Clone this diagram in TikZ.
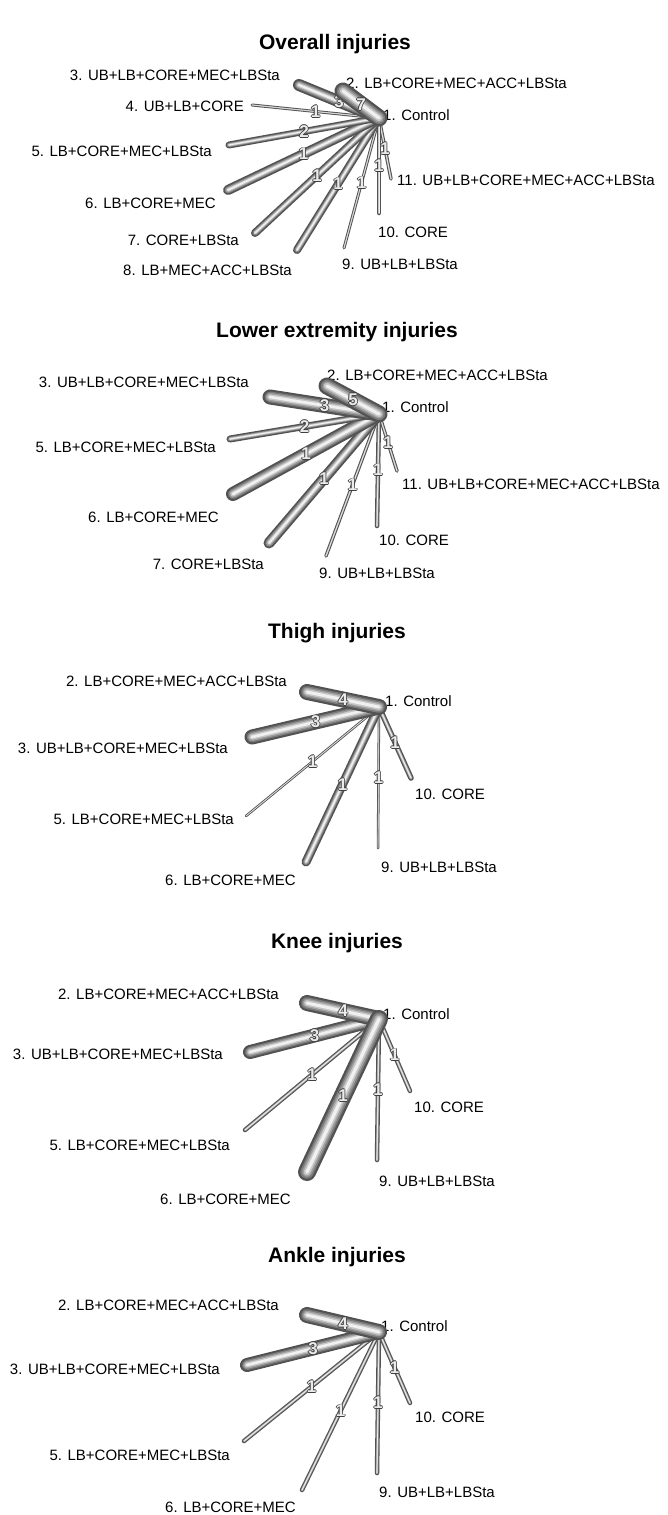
\documentclass[tikz,border=0pt]{standalone}
\usepackage{fontspec}
\setmainfont{Liberation Sans}
\usetikzlibrary{positioning}

% hollow digit: dark rim, white core
\newcommand{\hollow}[1]{%
  \leavevmode\rlap{\kern-0.8pt\color{black!75}#1}%
  \rlap{\kern0.8pt\color{black!75}#1}%
  \rlap{\raise0.8pt\hbox{\color{black!75}#1}}%
  \rlap{\lower0.8pt\hbox{\color{black!75}#1}}%
  {\color{black!8}#1}}

% shaded tube between two points, count at the middle
\newcommand{\edgetube}[4]{%
  \draw[line cap=round, line width=#3pt, black!68] (#1) -- (#2);
  \foreach \f/\c in {0.8/52,0.6/38,0.4/22,0.2/6}{%
    \pgfmathsetmacro{\lw}{max(#3-1.4,0.6)*\f}%
    \draw[line cap=round, line width=\lw pt, black!\c] (#1) -- (#2);
  }%
  \path (#1) -- (#2) node[num, pos=0.5] (n#2) {\hollow{#4}};
}

\begin{document}
\begin{tikzpicture}[x=1pt, y=-1pt,
    lbl/.style={font=\fontsize{15}{15}\selectfont, inner sep=0pt},
    ttl/.style={font=\fontsize{21}{21}\selectfont\bfseries, inner sep=0pt},
    num/.style={font=\fontsize{17}{17}\selectfont\bfseries, inner sep=0pt}]
    \fill[white] (0,0) rectangle (667,1515);
    \useasboundingbox (0,0) rectangle (667,1515);

    % Overall injuries
    \node[ttl] (t1) at (335,44) {Overall injuries};
    \coordinate (ov1) at (379,118);
    \coordinate (ov2) at (343,91);
    \coordinate (ov3) at (299,85);
    \coordinate (ov4) at (252,105);
    \coordinate (ov5) at (229,145);
    \coordinate (ov6) at (228,190);
    \coordinate (ov7) at (255,233);
    \coordinate (ov8) at (297,250);
    \coordinate (ov9) at (344,248);
    \coordinate (ov10) at (379,213);
    \coordinate (ov11) at (391,179);
    \node[lbl, anchor=west] (ov1l) at (383,115) {1. Control};
    \node[lbl, anchor=west] (ov2l) at (346,83) {2. LB+CORE+MEC+ACC+LBSta};
    \node[lbl, anchor=east] (ov3l) at (280,75) {3. UB+LB+CORE+MEC+LBSta};
    \node[lbl, anchor=east] (ov4l) at (244,106) {4. UB+LB+CORE};
    \node[lbl, anchor=east] (ov5l) at (212,151) {5. LB+CORE+MEC+LBSta};
    \node[lbl, anchor=east] (ov6l) at (216,203) {6. LB+CORE+MEC};
    \node[lbl, anchor=east] (ov7l) at (239,240) {7. CORE+LBSta};
    \node[lbl, anchor=east] (ov8l) at (292,270) {8. LB+MEC+ACC+LBSta};
    \node[lbl, anchor=west] (ov9l) at (342,264) {9. UB+LB+LBSta};
    \node[lbl, anchor=west] (ov10l) at (378,232) {10. CORE};
    \node[lbl, anchor=west] (ov11l) at (397,180) {11. UB+LB+CORE+MEC+ACC+LBSta};
    \edgetube{ov1}{ov11}{3.5}{1}
    \edgetube{ov1}{ov10}{4.5}{1}
    \edgetube{ov1}{ov9}{3}{1}
    \edgetube{ov1}{ov8}{8}{1}
    \edgetube{ov1}{ov7}{8}{1}
    \edgetube{ov1}{ov6}{10}{1}
    \edgetube{ov1}{ov5}{7}{2}
    \edgetube{ov1}{ov4}{3}{1}
    \edgetube{ov1}{ov3}{12}{3}
    \edgetube{ov1}{ov2}{17}{7}

    % Lower extremity injuries
    \node[ttl] (t2) at (337,332) {Lower extremity injuries};
    \coordinate (lo1) at (379,414);
    \coordinate (lo2) at (327,386);
    \coordinate (lo3) at (270,397);
    \coordinate (lo5) at (230,439);
    \coordinate (lo6) at (233,494);
    \coordinate (lo7) at (269,543);
    \coordinate (lo9) at (326,556);
    \coordinate (lo10) at (377,526);
    \coordinate (lo11) at (397,471);
    \node[lbl, anchor=west] (lo1l) at (382,407) {1. Control};
    \node[lbl, anchor=west] (lo2l) at (327,375) {2. LB+CORE+MEC+ACC+LBSta};
    \node[lbl, anchor=east] (lo3l) at (249,382) {3. UB+LB+CORE+MEC+LBSta};
    \node[lbl, anchor=east] (lo5l) at (216,447) {5. LB+CORE+MEC+LBSta};
    \node[lbl, anchor=east] (lo6l) at (219,517) {6. LB+CORE+MEC};
    \node[lbl, anchor=east] (lo7l) at (264,564) {7. CORE+LBSta};
    \node[lbl, anchor=west] (lo9l) at (319,573) {9. UB+LB+LBSta};
    \node[lbl, anchor=west] (lo10l) at (379,540) {10. CORE};
    \node[lbl, anchor=west] (lo11l) at (402,484) {11. UB+LB+CORE+MEC+ACC+LBSta};
    \edgetube{lo1}{lo11}{3.5}{1}
    \edgetube{lo1}{lo10}{4.5}{1}
    \edgetube{lo1}{lo9}{3.5}{1}
    \edgetube{lo1}{lo7}{11}{1}
    \edgetube{lo1}{lo6}{14}{1}
    \edgetube{lo1}{lo5}{7}{2}
    \edgetube{lo1}{lo3}{15}{3}
    \edgetube{lo1}{lo2}{17}{5}

    % Thigh injuries
    \node[ttl] (t3) at (337,633) {Thigh injuries};
    \coordinate (th1) at (379,707);
    \coordinate (th2) at (307,692);
    \coordinate (th3) at (252,737);
    \coordinate (th5) at (246,816);
    \coordinate (th6) at (306,862);
    \coordinate (th9) at (378,848);
    \coordinate (th10) at (411,778);
    \node[lbl, anchor=west] (th1l) at (385,701) {1. Control};
    \node[lbl, anchor=east] (th2l) at (287,681) {2. LB+CORE+MEC+ACC+LBSta};
    \node[lbl, anchor=east] (th3l) at (228,748) {3. UB+LB+CORE+MEC+LBSta};
    \node[lbl, anchor=east] (th5l) at (234,819) {5. LB+CORE+MEC+LBSta};
    \node[lbl, anchor=east] (th6l) at (296,880) {6. LB+CORE+MEC};
    \node[lbl, anchor=west] (th9l) at (381,867) {9. UB+LB+LBSta};
    \node[lbl, anchor=west] (th10l) at (415,794) {10. CORE};
    \edgetube{th1}{th10}{5.5}{1}
    \edgetube{th1}{th9}{2.5}{1}
    \edgetube{th1}{th6}{9}{1}
    \edgetube{th1}{th5}{2.5}{1}
    \edgetube{th1}{th3}{15}{3}
    \edgetube{th1}{th2}{16}{4}

    % Knee injuries
    \node[ttl] (t4) at (337,943) {Knee injuries};
    \coordinate (kn1) at (379,1019);
    \coordinate (kn2) at (307,1003);
    \coordinate (kn3) at (250,1052);
    \coordinate (kn5) at (245,1130);
    \coordinate (kn6) at (307,1172);
    \coordinate (kn9) at (377,1160);
    \coordinate (kn10) at (410,1091);
    \node[lbl, anchor=west] (kn1l) at (383,1014) {1. Control};
    \node[lbl, anchor=east] (kn2l) at (279,994) {2. LB+CORE+MEC+ACC+LBSta};
    \node[lbl, anchor=east] (kn3l) at (223,1054) {3. UB+LB+CORE+MEC+LBSta};
    \node[lbl, anchor=east] (kn5l) at (230,1145) {5. LB+CORE+MEC+LBSta};
    \node[lbl, anchor=east] (kn6l) at (291,1199) {6. LB+CORE+MEC};
    \node[lbl, anchor=west] (kn9l) at (379,1181) {9. UB+LB+LBSta};
    \node[lbl, anchor=west] (kn10l) at (414,1107) {10. CORE};
    \edgetube{kn1}{kn10}{4.5}{1}
    \edgetube{kn1}{kn9}{4.5}{1}
    \edgetube{kn1}{kn5}{4.5}{1}
    \edgetube{kn1}{kn3}{14}{3}
    \edgetube{kn1}{kn2}{16}{4}
    \edgetube{kn1}{kn6}{18}{1}

    % Ankle injuries
    \node[ttl] (t5) at (337,1257) {Ankle injuries};
    \coordinate (an1) at (379,1332);
    \coordinate (an2) at (307,1315);
    \coordinate (an3) at (247,1365);
    \coordinate (an5) at (244,1441);
    \coordinate (an6) at (302,1490);
    \coordinate (an9) at (377,1473);
    \coordinate (an10) at (410,1403);
    \node[lbl, anchor=west] (an1l) at (381,1326) {1. Control};
    \node[lbl, anchor=east] (an2l) at (279,1305) {2. LB+CORE+MEC+ACC+LBSta};
    \node[lbl, anchor=east] (an3l) at (220,1369) {3. UB+LB+CORE+MEC+LBSta};
    \node[lbl, anchor=east] (an5l) at (230,1455) {5. LB+CORE+MEC+LBSta};
    \node[lbl, anchor=east] (an6l) at (296,1507) {6. LB+CORE+MEC};
    \node[lbl, anchor=west] (an9l) at (379,1492) {9. UB+LB+LBSta};
    \node[lbl, anchor=west] (an10l) at (415,1417) {10. CORE};
    \edgetube{an1}{an10}{4.5}{1}
    \edgetube{an1}{an9}{4.5}{1}
    \edgetube{an1}{an6}{4.5}{1}
    \edgetube{an1}{an5}{4.5}{1}
    \edgetube{an1}{an3}{14}{3}
    \edgetube{an1}{an2}{16}{4}
\end{tikzpicture}
\end{document}
